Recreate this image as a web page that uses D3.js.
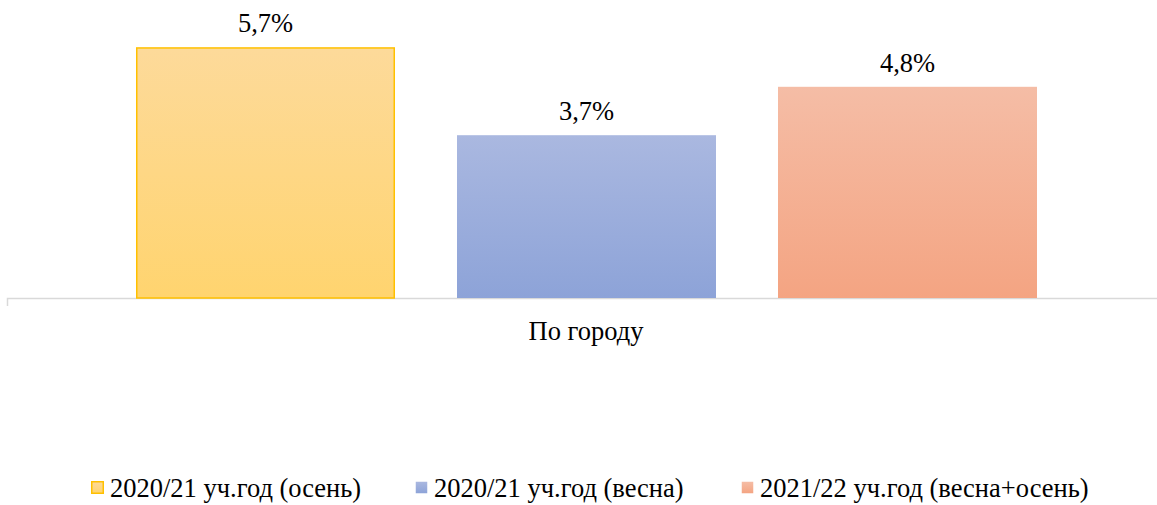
<!DOCTYPE html>
<html>
<head>
<meta charset="utf-8">
<script src="https://cdn.jsdelivr.net/npm/d3@7"></script>
<style>
  body { margin: 0; background: #fff; }
</style>
</head>
<body>
<div id="chart"></div>
<script>
// data
const categories = ["По городу"];
const seriesNames = ["2020/21 уч.год (осень)", "2020/21 уч.год (весна)", "2021/22 уч.год (весна+осень)"];
const seriesValues = [5.7, 3.7, 4.8];
const seriesColors = [
    { top: "#FDDA9A", bottom: "#FFD46F", stroke: "#FFC000" },
    { top: "#AAB8E0", bottom: "#8DA3D8", stroke: null },
    { top: "#F5BDA6", bottom: "#F4A482", stroke: null }
];

const FONT = "'Liberation Serif', Tinos, 'Times New Roman', serif";
const FS = "26.5px";
const width = 1157, height = 505;
const svg = d3.select("#chart").append("svg")
    .attr("width", width)
    .attr("height", height)
    .style("font-family", FONT);

const baseY = 298;
const y = d3.scaleLinear().domain([0, 6]).range([baseY, baseY - 264]);

const x1 = d3.scaleBand().domain(seriesNames)
    .range([136, 1037])
    .paddingInner(62 / 321);

const defs = svg.append("defs");
seriesColors.forEach((c, i) => {
    const g = defs.append("linearGradient")
        .attr("id", "grad" + i)
        .attr("x1", 0).attr("y1", 0).attr("x2", 0).attr("y2", 1);
    g.append("stop").attr("offset", "0%").attr("stop-color", c.top);
    g.append("stop").attr("offset", "100%").attr("stop-color", c.bottom);
});

// axis line
svg.append("path")
    .attr("d", `M7.5,306V${baseY + 0.5}H${width}`)
    .attr("fill", "none")
    .attr("stroke", "#d9d9d9")
    .attr("stroke-width", 1.5);

// bars
seriesNames.forEach((s, i) => {
    const v = seriesValues[i];
    const c = seriesColors[i];
    const bx = x1(s);
    svg.append("rect")
        .attr("x", bx + (c.stroke ? 0.75 : 0))
        .attr("y", y(v) + (c.stroke ? 0.75 : 0))
        .attr("width", x1.bandwidth() - (c.stroke ? 1.5 : 0))
        .attr("height", baseY - y(v) - (c.stroke ? 0.75 : 0))
        .attr("fill", `url(#grad${i})`)
        .attr("stroke", c.stroke || "none")
        .attr("stroke-width", 1.5);

    svg.append("text")
        .attr("class", "lbl")
        .attr("x", bx + x1.bandwidth() / 2)
        .attr("y", y(v) - 15)
        .attr("text-anchor", "middle")
        .attr("fill", "#000")
        .text(String(v).replace(".", ",") + "%");
});

// category label
svg.append("text")
    .attr("class", "lbl")
    .attr("x", 586)
    .attr("y", 340)
    .attr("text-anchor", "middle")
    .text(categories[0]);

// legend
const legendX = [91, 415, 741];
seriesNames.forEach((s, i) => {
    const c = seriesColors[i];
    const g = svg.append("g").attr("transform", `translate(${legendX[i]},481)`);
    g.append("rect")
        .attr("x", 0.75).attr("y", 0.75)
        .attr("width", 11.5).attr("height", 11.5)
        .attr("fill", `url(#grad${i})`)
        .attr("stroke", c.stroke || "none")
        .attr("stroke-width", 1.5);
    g.append("text")
        .attr("class", "lbl")
        .attr("x", 19)
        .attr("y", 16)
        .text(s);
});

svg.selectAll("text.lbl")
    .style("font-family", FONT)
    .style("font-size", FS);
</script>
</body>
</html>
